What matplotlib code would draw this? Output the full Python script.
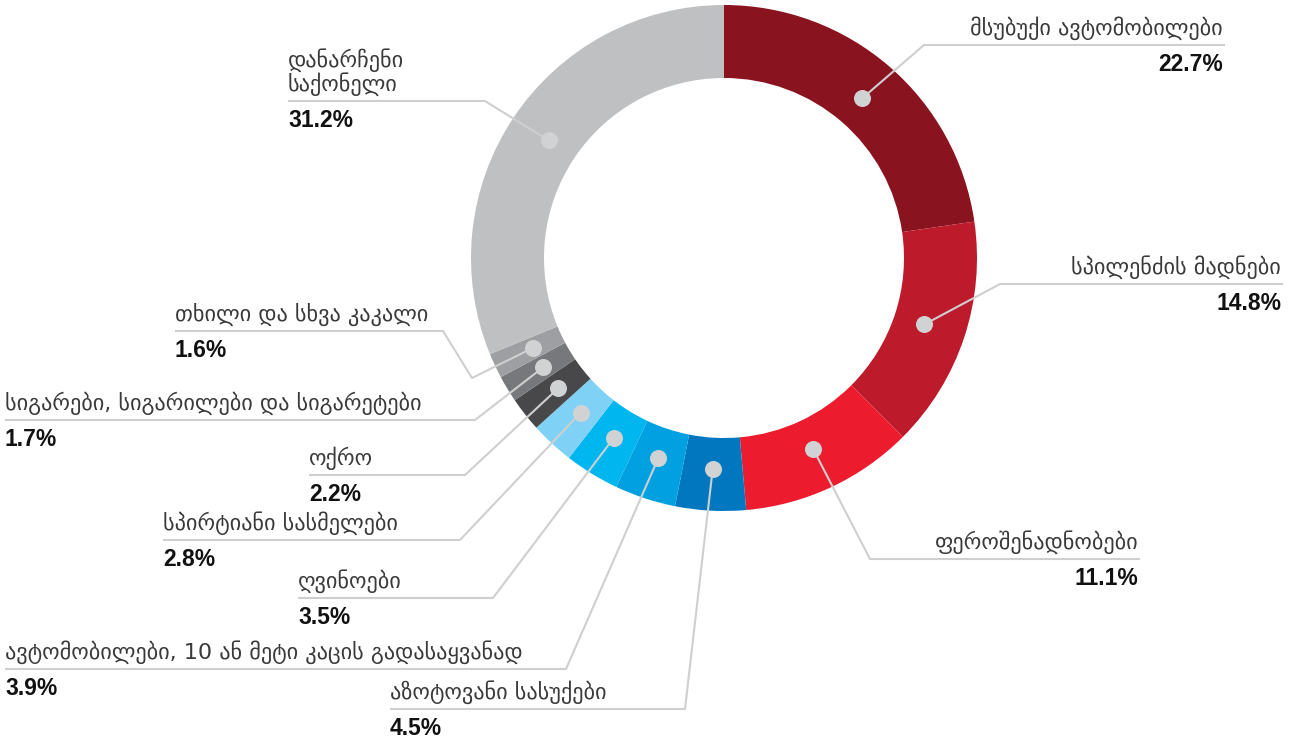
import numpy as np
import matplotlib.pyplot as plt

# slice data (clockwise from top)
labels = [
    "მსუბუქი ავტომობილები",
    "სპილენძის მადნები",
    "ფეროშენადნობები",
    "აზოტოვანი სასუქები",
    "ავტომობილები, 10 ან მეტი კაცის გადასაყვანად",
    "ღვინოები",
    "სპირტიანი სასმელები",
    "ოქრო",
    "სიგარები, სიგარილები და სიგარეტები",
    "თხილი და სხვა კაკალი",
    "დანარჩენი\nსაქონელი",
]
shares = [22.7, 14.8, 11.1, 4.5, 3.9, 3.5, 2.8, 2.2, 1.7, 1.6, 31.2]
colors = ["#8A1320", "#BD1A2B", "#EC1C2E", "#0077BF", "#00A0E1", "#00B6EE",
          "#7FD2F6", "#48484A", "#77787B", "#9E9FA2", "#BFC0C2"]

# label layout in pixels (top-down): line x0, x1, line y, side
layout = [
    (924, 1225, 45, "right"),
    (1000, 1283, 284, "right"),
    (870, 1140, 559, "right"),
    (390, 685, 709, "left"),
    (5, 566, 669, "left"),
    (298, 493, 598, "left"),
    (163, 460, 540, "left"),
    (309, 465, 475, "left"),
    (5, 475, 420, "left"),
    (175, 443, 331, "left"),
    (288, 485, 101, "left"),
]
extra_bend = {9: (472, 378)}

W, H = 1291, 742
CX, CY = 724, 258
R_OUT, R_IN = 253, 180

fig = plt.figure(figsize=(W / 100, H / 100), dpi=100)
ax = fig.add_axes([0, 0, 1, 1])

wedges, _ = ax.pie(shares, colors=colors, startangle=90, counterclock=False,
                   center=(CX, H - CY), radius=R_OUT,
                   wedgeprops=dict(width=R_OUT - R_IN, linewidth=0))
ax.set_xlim(0, W)
ax.set_ylim(0, H)
ax.set_aspect("equal")
ax.axis("off")

line_col = "#CFCFD0"
label_font = ["DejaVu Sans"]
pct_font = ["Liberation Sans", "DejaVu Sans"]

for i, (w, lab, val) in enumerate(zip(wedges, labels, shares)):
    mid = np.deg2rad((w.theta1 + w.theta2) / 2)
    r_dot = 211
    dx = CX + r_dot * np.cos(mid)
    dy = (H - CY) + r_dot * np.sin(mid)

    x0, x1, ly, side = layout[i]
    ly = H - ly
    if side == "right":
        elbow = (x0, ly)
        end = (x1, ly)
    else:
        elbow = (x1, ly)
        end = (x0, ly)
    xs = [end[0], elbow[0]]
    ys = [end[1], elbow[1]]
    if i in extra_bend:
        bx, by = extra_bend[i]
        xs.append(bx)
        ys.append(H - by)
    xs.append(dx)
    ys.append(dy)
    ax.plot(xs, ys, color=line_col, lw=1.5, solid_capstyle="butt", zorder=3)
    ax.scatter([dx], [dy], s=150, color="#D1D2D4", zorder=4, linewidths=0)

    tx = x1 - 2 if side == "right" else x0
    ax.text(tx, ly + 5, lab, ha=side, va="bottom", fontsize=16,
            family=label_font, color="#3A3A3A", linespacing=1.0)
    ax.text(tx, ly - 8, f"{val}%", ha=side, va="top", fontsize=16.5,
            family=pct_font, fontweight="bold", color="#111111")

fig.savefig("out.png", dpi=100)
